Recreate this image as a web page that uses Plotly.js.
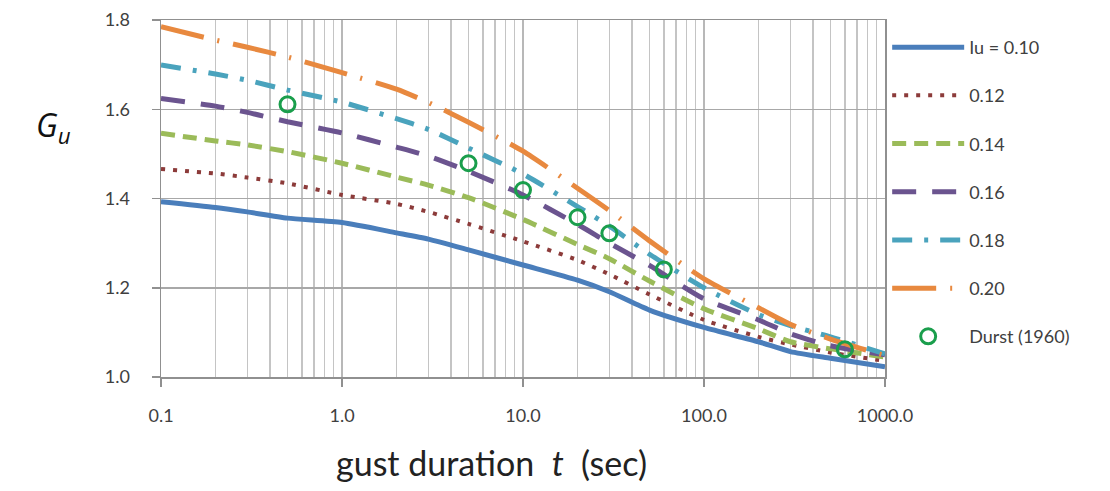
<!DOCTYPE html>
<html>
<head>
<meta charset="utf-8">
<script src="https://cdn.plot.ly/plotly-3.0.1.min.js"></script>
<style>html,body{margin:0;padding:0;background:#fff;}#chart{width:1110px;height:491px;}</style>
</head>
<body>
<div id="chart"></div>
<script>
// gust duration t (sec)
const t = [0.1, 0.2, 0.3, 0.5, 1, 2, 3, 5, 10, 20, 30, 50, 100, 200, 300, 500, 1000];
// Gust factor Gu for each turbulence intensity Iu
const g010 = [1.393, 1.380, 1.370, 1.356, 1.346, 1.323, 1.309, 1.285, 1.251, 1.217, 1.191, 1.150, 1.111, 1.079, 1.057, 1.042, 1.023];
const g012 = [1.466, 1.456, 1.447, 1.434, 1.408, 1.388, 1.370, 1.343, 1.304, 1.262, 1.230, 1.185, 1.128, 1.090, 1.073, 1.055, 1.036];
const g014 = [1.546, 1.529, 1.520, 1.505, 1.479, 1.448, 1.430, 1.402, 1.353, 1.297, 1.265, 1.215, 1.153, 1.108, 1.079, 1.063, 1.045];
const g016 = [1.624, 1.607, 1.593, 1.572, 1.547, 1.515, 1.495, 1.461, 1.408, 1.342, 1.300, 1.250, 1.175, 1.128, 1.097, 1.070, 1.050];
const g018 = [1.699, 1.679, 1.665, 1.643, 1.616, 1.579, 1.555, 1.513, 1.455, 1.382, 1.338, 1.275, 1.200, 1.140, 1.115, 1.090, 1.052];
const g020 = [1.785, 1.755, 1.739, 1.717, 1.682, 1.645, 1.615, 1.571, 1.506, 1.423, 1.373, 1.305, 1.220, 1.155, 1.118, 1.085, 1.048];
// Durst (1960)
const durstT = [0.5, 5, 10, 20, 30, 60, 600];
const durstG = [1.611, 1.479, 1.419, 1.358, 1.322, 1.241, 1.062];

const seriesNames = ['Iu = 0.10', '0.12', '0.14', '0.16', '0.18', '0.20'];
const seriesVals = [g010, g012, g014, g016, g018, g020];
const colors = ['#4a7ebb', '#8c3b3a', '#9bbb59', '#6b548f', '#4aa3bd', '#e8893f'];
const dashes = ['solid', '4px,8px', '14px,8px', '24px,16px', '20px,12px,4px,12px', '44px,14px,2px,14px'];
const widths = [5, 4, 5, 5, 5, 5];

const traces = seriesVals.map((v, i) => ({
  x: t, y: v, type: 'scatter', mode: 'lines', name: seriesNames[i],
  legendgroup: 'g' + i,
  line: {color: colors[i], width: widths[i], dash: dashes[i], shape: 'spline', smoothing: 0.6},
  hoverinfo: 'skip'
}));
traces.push({
  x: durstT, y: durstG, type: 'scatter', mode: 'markers', name: 'Durst (1960)',
  legendgroup: 'durst',
  marker: {symbol: 'circle-open', size: 15, color: '#1a9e4c', line: {width: 3, color: '#1a9e4c'}}
});

const minorVals = [];
[0.1, 1, 10, 100].forEach(d => { for (let k = 2; k <= 9; k++) minorVals.push(d * k); });

const tickFont = {family: 'Lato, "Open Sans", sans-serif', size: 18, color: '#404040'};

const layout = {
  width: 1110, height: 491,
  margin: {l: 161, r: 225, t: 20, b: 114},
  paper_bgcolor: '#fff', plot_bgcolor: '#fff',
  showlegend: true,
  legend: {
    x: 1.003, y: 0.975, xanchor: 'left', yanchor: 'top',
    font: {family: 'Lato, "Open Sans", sans-serif', size: 18, color: '#404040'},
    tracegroupgap: 21.8, itemwidth: 72, bgcolor: 'rgba(0,0,0,0)'
  },
  xaxis: {
    type: 'log', range: [-1, 3],
    tickvals: [0.1, 1, 10, 100, 1000],
    ticktext: ['0.1', '1.0', '10.0', '100.0', '1000.0'],
    ticks: 'outside', ticklen: 8, tickcolor: '#909090', tickwidth: 1.5,
    ticklabelstandoff: 14,
    showgrid: true, gridcolor: '#b8b8b8', gridwidth: 1.5,
    minor: {tickvals: minorVals, showgrid: true, gridcolor: '#c4c4c4', gridwidth: 1.5, ticks: ''},
    showline: true, linecolor: '#909090', linewidth: 1.5, mirror: true,
    tickfont: tickFont, zeroline: false, fixedrange: true
  },
  yaxis: {
    range: [1.0, 1.8], dtick: 0.2, tickformat: '.1f',
    ticks: 'outside', ticklen: 8, tickcolor: '#909090', tickwidth: 1.5,
    ticklabelstandoff: 18,
    showgrid: true, gridcolor: '#a8a8a8', gridwidth: 1.5,
    showline: true, linecolor: '#909090', linewidth: 1.5, mirror: true,
    tickfont: tickFont, zeroline: false, fixedrange: true
  },
  annotations: [
    {text: '<i>G<sub>u</sub></i>', xref: 'paper', yref: 'paper', x: -0.148, y: 0.70,
     xanchor: 'center', yanchor: 'middle', showarrow: false,
     font: {family: '"Open Sans", sans-serif', size: 32, color: '#111'}},
    {text: 'gust duration  <i>t</i>  (sec)', xref: 'paper', yref: 'paper', x: 0.457, y: -0.24,
     xanchor: 'center', yanchor: 'middle', showarrow: false,
     font: {family: 'Lato, "Open Sans", sans-serif', size: 34, color: '#222'}}
  ]
};

Plotly.newPlot('chart', traces, layout, {staticPlot: true, displayModeBar: false});
</script>
</body>
</html>
